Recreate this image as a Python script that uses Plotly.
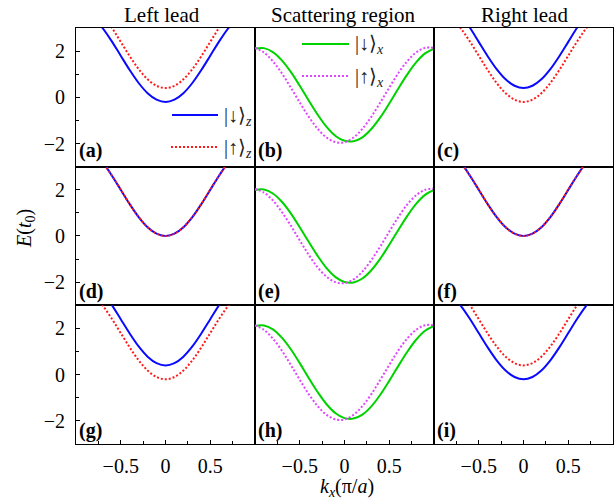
import plotly.graph_objects as go
from plotly.subplots import make_subplots

# ---- data ----
k_lead = [-0.8, -0.7, -0.6, -0.5, -0.4, -0.3, -0.2, -0.1, 0.0,
          0.1, 0.2, 0.3, 0.4, 0.5, 0.6, 0.7, 0.8]
lead_low = [3.42, 2.98, 2.42, 1.80, 1.18, 0.62, 0.18, -0.10, -0.20,
            -0.10, 0.18, 0.62, 1.18, 1.80, 2.42, 2.98, 3.42]
lead_high = [4.02, 3.58, 3.02, 2.40, 1.78, 1.22, 0.78, 0.50, 0.40,
             0.50, 0.78, 1.22, 1.78, 2.40, 3.02, 3.58, 4.02]
lead_zero = [3.62, 3.18, 2.62, 2.00, 1.38, 0.82, 0.38, 0.10, 0.00,
             0.10, 0.38, 0.82, 1.38, 2.00, 2.62, 3.18, 3.62]

k_sc = [-1.0, -0.9, -0.8, -0.7, -0.6, -0.5, -0.4, -0.3, -0.2, -0.1, 0.0,
        0.1, 0.2, 0.3, 0.4, 0.5, 0.6, 0.7, 0.8, 0.9, 1.0]
sc_down_b = [2.11, 2.13, 1.96, 1.60, 1.10, 0.50, -0.14, -0.75, -1.28, -1.67, -1.88,
             -1.90, -1.73, -1.37, -0.87, -0.27, 0.37, 0.98, 1.51, 1.90, 2.11]
sc_up_b = [2.14, 1.94, 1.56, 1.04, 0.42, -0.22, -0.84, -1.36, -1.74, -1.94, -1.94,
           -1.74, -1.36, -0.84, -0.22, 0.42, 1.04, 1.56, 1.94, 2.14, 2.14]
sc_down_e = [1.99, 2.01, 1.84, 1.48, 0.98, 0.38, -0.25, -0.86, -1.39, -1.78, -1.99,
             -2.01, -1.84, -1.48, -0.98, -0.38, 0.25, 0.86, 1.39, 1.78, 1.99]
sc_up_e = [2.04, 1.88, 1.54, 1.04, 0.45, -0.19, -0.81, -1.36, -1.76, -2.00, -2.04,
           -1.88, -1.54, -1.04, -0.45, 0.19, 0.81, 1.36, 1.76, 2.00, 2.04]

column_titles = ["Left lead", "Scattering region", "Right lead"]
panel_letters = ["(a)", "(b)", "(c)", "(d)", "(e)", "(f)", "(g)", "(h)", "(i)"]
x_ticks = [-0.5, 0, 0.5]
x_ticktext = ["\u22120.5", "0", "0.5"]
y_ticks = [-2, 0, 2]
y_ticktext = ["\u22122", "0", "2"]

FONT = "Liberation Serif, Times New Roman, Times, serif"
BLUE = "#0a0aff"
RED = "#ff1a1a"
GREEN = "#00d200"
MAGENTA = "#e045ff"
DOT = "2px,2px"

lead_panels = {
    (1, 1): (lead_low, lead_high),
    (1, 3): (lead_high, lead_low),
    (2, 1): (lead_zero, lead_zero),
    (2, 3): (lead_zero, lead_zero),
    (3, 1): (lead_high, lead_low),
    (3, 3): (lead_low, lead_high),
}
sc_panels = {
    (1, 2): (sc_down_b, sc_up_b),
    (2, 2): (sc_down_e, sc_up_e),
    (3, 2): (sc_down_b, sc_up_b),
}

fig = make_subplots(rows=3, cols=3, horizontal_spacing=0, vertical_spacing=0)

for r in range(1, 4):
    for c in range(1, 4):
        fig.add_hline(y=0, line=dict(color="#222222", width=0.8, dash="dashdot"),
                      row=r, col=c)

for (r, c), (down, up) in lead_panels.items():
    fig.add_trace(go.Scatter(x=k_lead, y=down, mode="lines", line_shape="spline",
                             line=dict(color=BLUE, width=2), showlegend=False),
                  row=r, col=c)
    fig.add_trace(go.Scatter(x=k_lead, y=up, mode="lines", line_shape="spline",
                             line=dict(color=RED, width=2, dash=DOT), showlegend=False),
                  row=r, col=c)
for (r, c), (down, up) in sc_panels.items():
    fig.add_trace(go.Scatter(x=k_sc, y=down, mode="lines", line_shape="spline",
                             line=dict(color=GREEN, width=2), showlegend=False),
                  row=r, col=c)
    fig.add_trace(go.Scatter(x=k_sc, y=up, mode="lines", line_shape="spline",
                             line=dict(color=MAGENTA, width=2, dash=DOT), showlegend=False),
                  row=r, col=c)

for r in range(1, 4):
    for c in range(1, 4):
        xa = dict(range=[-1, 1], showline=True, mirror=True, linecolor="black",
                  linewidth=1, showgrid=False, zeroline=False)
        ya = dict(range=[-3, 3], showline=True, mirror=True, linecolor="black",
                  linewidth=1, showgrid=False, zeroline=False)
        if r == 3:
            xa.update(tickvals=x_ticks, ticktext=x_ticktext, ticks="inside", ticklen=4,
                      tickwidth=1, tickcolor="black", ticklabelstandoff=4,
                      tickfont=dict(family=FONT, size=20, color="black"),
                      minor=dict(dtick=0.25, tick0=0, ticks="inside", ticklen=3,
                                 tickcolor="black", tickwidth=1))
        else:
            xa.update(showticklabels=False, ticks="")
        if c == 1:
            ya.update(tickvals=y_ticks, ticktext=y_ticktext, ticks="inside", ticklen=4,
                      tickwidth=1, tickcolor="black", ticklabelstandoff=6,
                      tickfont=dict(family=FONT, size=20, color="black"),
                      minor=dict(dtick=1, tick0=0, ticks="inside", ticklen=3,
                                 tickcolor="black", tickwidth=1))
        else:
            ya.update(showticklabels=False, ticks="")
        fig.update_xaxes(row=r, col=c, **xa)
        fig.update_yaxes(row=r, col=c, **ya)

# pixel -> paper helpers
X0, W, YB, H = 76, 537, 444, 416
def xp(px):
    return (px - X0) / W
def yp(py):
    return (YB - py) / H

ann = []
for txt, cx in zip(column_titles, [162, 343, 524]):
    ann.append(dict(text=txt, x=xp(cx), y=yp(15), xref="paper", yref="paper",
                    xanchor="center", yanchor="middle", showarrow=False,
                    font=dict(family=FONT, size=21, color="black")))

col_left = [76, 255, 434]
row_bottom = [165, 305, 444]
for i, lab in enumerate(panel_letters):
    r, c = divmod(i, 3)
    ann.append(dict(text="<b>" + lab + "</b>", x=xp(col_left[c] + 1), y=yp(row_bottom[r] - 14),
                    xref="paper", yref="paper", xanchor="left", yanchor="middle",
                    showarrow=False, font=dict(family=FONT, size=20, color="black")))

ann.append(dict(text="<i>E</i>(<i>t</i><sub>0</sub>)", x=xp(26), y=yp(229),
                xref="paper", yref="paper", xanchor="center", yanchor="middle",
                textangle=-90, showarrow=False,
                font=dict(family=FONT, size=20, color="black")))
ann.append(dict(text="<i>k</i><sub><i>x</i></sub>(\u03c0/<i>a</i>)", x=xp(347), y=yp(487),
                xref="paper", yref="paper", xanchor="center", yanchor="middle",
                showarrow=False, font=dict(family=FONT, size=20, color="black")))

# legends
legend_items = [
    (172, 218, 115, BLUE, "solid", 2, "|\u2193\u27e9<sub><i>z</i></sub>", 222),
    (171, 217, 147, RED, DOT, 2, "|\u2191\u27e9<sub><i>z</i></sub>", 222),
    (302, 349, 44, GREEN, "solid", 2, "|\u2193\u27e9<sub><i>x</i></sub>", 353),
    (302, 349, 76, MAGENTA, DOT, 2, "|\u2191\u27e9<sub><i>x</i></sub>", 353),
]
shapes = []
for x1, x2, yy, col, dash, w, txt, tx in legend_items:
    shapes.append(dict(type="line", xref="paper", yref="paper", x0=xp(x1), x1=xp(x2),
                       y0=yp(yy), y1=yp(yy), line=dict(color=col, width=w, dash=dash)))
    ann.append(dict(text=txt, x=xp(tx), y=yp(yy + 1), xref="paper", yref="paper",
                    xanchor="left", yanchor="middle", showarrow=False,
                    font=dict(family=FONT, size=20, color="#222222")))

fig.update_layout(width=616, height=499, margin=dict(l=76, r=3, t=28, b=55),
                  plot_bgcolor="white", paper_bgcolor="white",
                  font=dict(family=FONT, color="black"),
                  annotations=list(fig.layout.annotations) + ann,
                  shapes=list(fig.layout.shapes) + shapes,
                  showlegend=False)

fig.write_html("out.html", config={"displayModeBar": False},
               post_script="document.body.style.margin='0';")
